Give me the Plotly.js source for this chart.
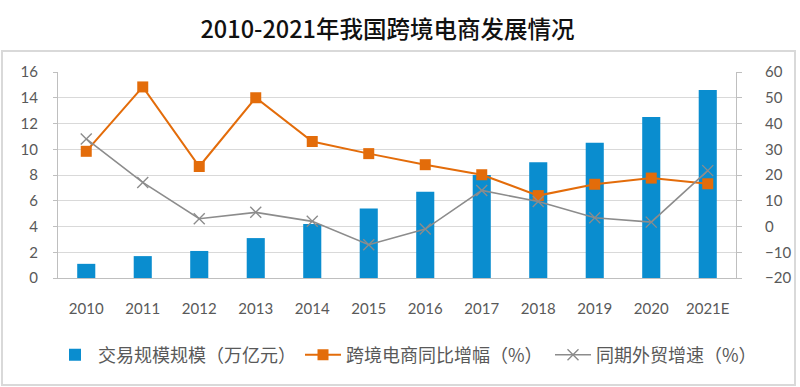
<!DOCTYPE html>
<html>
<head>
<meta charset="utf-8">
<script src="https://cdn.plot.ly/plotly-3.0.1.min.js"></script>
<style>html,body{margin:0;padding:0;background:#fff;}#chart{width:800px;height:387px;}</style>
</head>
<body>
<div id="chart"></div>
<script>
const years = ['2010','2011','2012','2013','2014','2015','2016','2017','2018','2019','2020','2021E'];
const tradeScale = [1.1, 1.7, 2.1, 3.1, 4.2, 5.4, 6.7, 8.0, 9.0, 10.5, 12.5, 14.6];
const ecomGrowth = [29.2, 54.2, 23.3, 50.0, 33.0, 28.3, 24.0, 20.1, 12.0, 16.4, 18.8, 16.6];
const tradeGrowth = [34.0, 17.1, 3.0, 5.5, 2.0, -7.1, -1.0, 14.0, 9.7, 3.4, 1.7, 21.7];
const seriesNames = ['交易规模规模（万亿元）', '跨境电商同比增幅（%）', '同期外贸增速（%）'];

const textColor = '#595959';
const cjk = '"Noto Sans CJK SC", "Noto Sans", sans-serif';
const num = 'Lato, "Open Sans", sans-serif';

const traces = [
  {
    type: 'bar', x: years, y: tradeScale, name: seriesNames[0],
    marker: {color: '#0a8dcf'}, width: 0.32, yaxis: 'y', legend: 'legend'
  },
  {
    type: 'scatter', mode: 'lines+markers', x: years, y: ecomGrowth, name: seriesNames[1],
    line: {color: '#e36c0a', width: 2}, marker: {symbol: 'square', size: 11, color: '#e36c0a'}, yaxis: 'y2', legend: 'legend2'
  },
  {
    type: 'scatter', mode: 'lines+markers', x: years, y: tradeGrowth, name: seriesNames[2],
    line: {color: '#8c8c8c', width: 1.6}, marker: {symbol: 'x-thin', size: 11, line: {color: '#8c8c8c', width: 1.4}}, yaxis: 'y2', legend: 'legend3'
  }
];

function legendAt(px) {
  return {
    orientation: 'h', x: px / 800, xanchor: 'left', xref: 'container',
    y: (387 - 355) / 387, yanchor: 'middle', yref: 'container',
    font: {family: cjk, size: 18, color: textColor},
    itemwidth: 36, bgcolor: 'rgba(0,0,0,0)'
  };
}

const layout = {
  width: 800, height: 387,
  margin: {l: 58, r: 64, t: 72, b: 109, autoexpand: false},
  paper_bgcolor: '#ffffff', plot_bgcolor: '#ffffff',
  title: {
    text: '2010-2021年我国跨境电商发展情况',
    font: {family: cjk, size: 23.5, color: '#111111', weight: 500},
    x: 0.486, xanchor: 'center', xref: 'paper',
    y: 0.922, yanchor: 'middle', yref: 'container'
  },
  xaxis: {
    type: 'category', range: [-0.5, 11.5],
    showline: true, linecolor: '#bfbfbf', linewidth: 1,
    ticks: '', showgrid: false,
    tickfont: {family: num, size: 15, color: textColor},
    ticklabelstandoff: 17
  },
  yaxis: {
    range: [0, 16], dtick: 2, tick0: 0,
    showline: true, linecolor: '#bfbfbf', linewidth: 1,
    ticks: 'outside', ticklen: 4, tickcolor: '#bfbfbf',
    showgrid: true, gridcolor: '#d9d9d9', gridwidth: 1,
    zeroline: false,
    tickfont: {family: num, size: 15, color: textColor},
    ticklabelstandoff: 12
  },
  yaxis2: {
    range: [-20, 60], dtick: 10, tick0: 0,
    overlaying: 'y', side: 'right',
    showline: true, linecolor: '#bfbfbf', linewidth: 1,
    ticks: 'outside', ticklen: 5, tickcolor: '#bfbfbf',
    showgrid: false, zeroline: false,
    tickfont: {family: num, size: 15, color: textColor},
    ticklabelstandoff: 20
  },
  showlegend: true,
  legend: legendAt(52),
  legend2: legendAt(300),
  legend3: legendAt(550),
  shapes: [
    {type: 'rect', xref: 'paper', yref: 'paper',
     x0: (2 - 58) / 678, x1: (795 - 58) / 678,
     y0: (278 - 385) / 206, y1: (278 - 51) / 206,
     line: {color: '#d9d9d9', width: 2}, fillcolor: 'rgba(0,0,0,0)', layer: 'below'}
  ]
};

Plotly.newPlot('chart', traces, layout, {displayModeBar: false, staticPlot: true});
</script>
</body>
</html>
